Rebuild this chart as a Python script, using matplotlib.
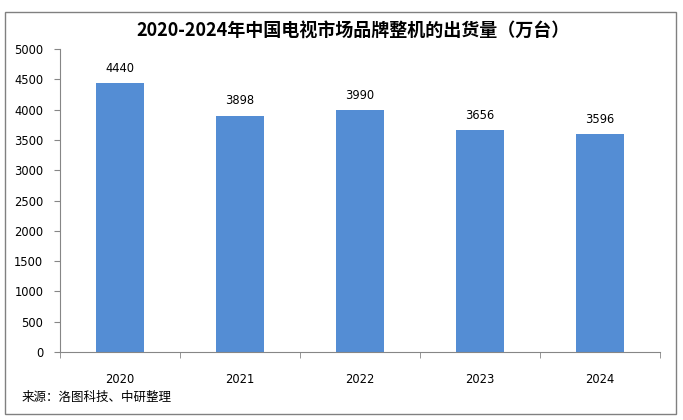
import numpy as np
import matplotlib.pyplot as plt
from matplotlib.patches import Rectangle

plt.rcParams['font.family'] = ['Noto Sans CJK SC', 'DejaVu Sans']

years = ['2020', '2021', '2022', '2023', '2024']
shipments = [4440, 3898, 3990, 3656, 3596]
y_ticks = list(range(0, 5001, 500))

title = '2020-2024年中国电视市场品牌整机的出货量（万台）'
source = '来源：洛图科技、中研整理'

fig = plt.figure(figsize=(6.83, 4.2), dpi=100)
ax = fig.add_axes([60 / 683, 1 - 352 / 420, 600 / 683, 303 / 420])

x = np.arange(len(years))
ax.bar(x, shipments, width=0.4, color='#548DD4', zorder=2)

for xi, v in zip(x, shipments):
    ax.annotate(str(v), (xi, v), xytext=(0, 6), textcoords='offset points',
                ha='center', va='bottom', fontsize=8.3, family='DejaVu Sans')

ax.set_xlim(-0.5, len(years) - 0.5)
ax.set_ylim(0, 5000)
ax.set_yticks(y_ticks)
ax.set_yticklabels([str(t) for t in y_ticks], fontsize=8.3, family='DejaVu Sans')
ax.set_xticks(x)
ax.set_xticklabels(years, fontsize=8.3, family='DejaVu Sans')
ax.set_xticks(np.arange(-0.5, len(years)), minor=True)
ax.tick_params(axis='x', which='major', length=0, pad=15)
ax.tick_params(axis='x', which='minor', length=4, direction='out', color='#868686')
ax.tick_params(axis='y', length=4, direction='out', color='#868686', pad=8)

for side in ['top', 'right']:
    ax.spines[side].set_visible(False)
for side in ['left', 'bottom']:
    ax.spines[side].set_color('#868686')
    ax.spines[side].set_linewidth(0.8)

fig.text(353 / 683, 1 - 31 / 420, title, ha='center', va='center',
         fontsize=13, fontweight='bold')
fig.text(22 / 683, 1 - 397 / 420, source, ha='left', va='center', fontsize=9)

# outer frame
fig.patches.append(Rectangle((5 / 683, 1 - 414 / 420), 671 / 683, 402 / 420,
                             transform=fig.transFigure, fill=False,
                             edgecolor='#808080', linewidth=1))

fig.savefig('out.png', dpi=100)
